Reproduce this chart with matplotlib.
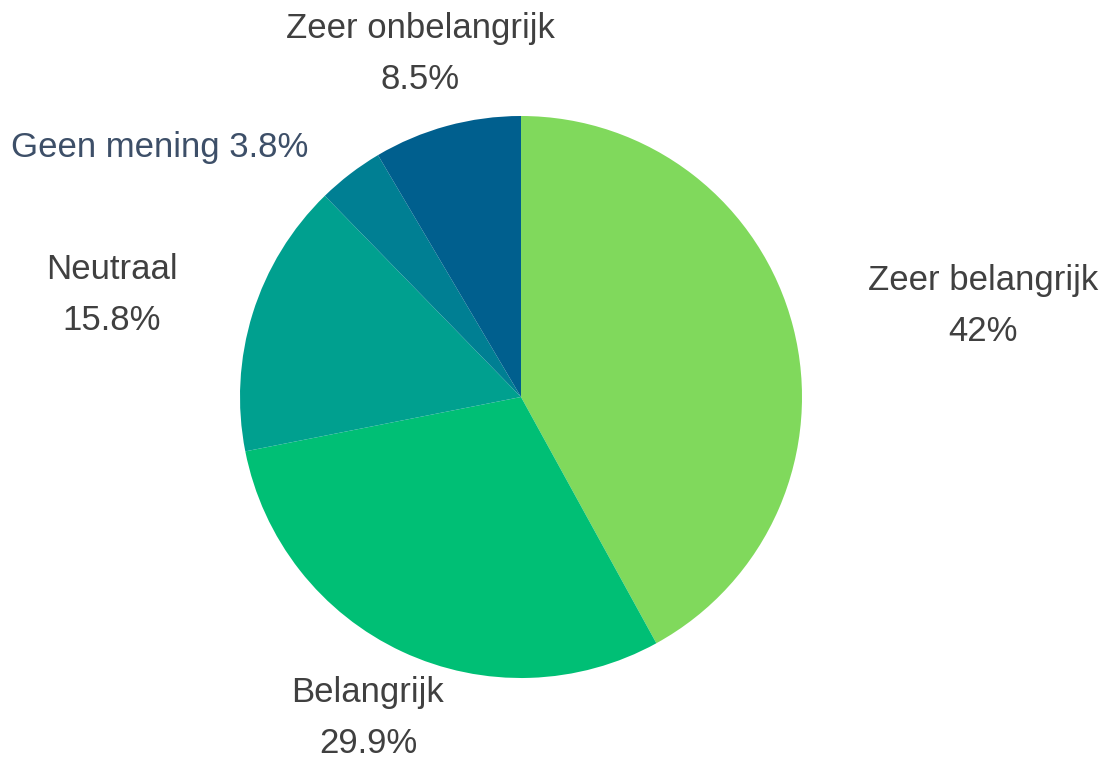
import matplotlib.pyplot as plt

# data
labels = ["Zeer belangrijk", "Belangrijk", "Neutraal", "Geen mening", "Zeer onbelangrijk"]
values = [42, 29.9, 15.8, 3.8, 8.5]
colors = ["#80d95c", "#00bf75", "#00a08f", "#007f93", "#005f8e"]

# label placement in figure pixels (x, y from top), two-line or single-line
label_pos = [(983, 306), (368, 718), (112, 295), (160, 147), (420, 54)]
single_line = [False, False, False, True, False]
label_colors = ["#404040", "#404040", "#404040", "#3d4f68", "#404040"]

W, H = 1110, 762
fig = plt.figure(figsize=(W / 100, H / 100), dpi=100)
ax = fig.add_axes([0, 0, 1, 1])

ax.pie(values, colors=colors, startangle=90, counterclock=False,
       center=(521, H - 397), radius=281, frame=True,
       wedgeprops=dict(linewidth=0))
ax.set_xlim(0, W)
ax.set_ylim(0, H)
ax.set_aspect("equal", adjustable="box")
ax.axis("off")

for lab, v, (x, y), one, c in zip(labels, values, label_pos, single_line, label_colors):
    pct = f"{v:g}%"
    txt = f"{lab} {pct}" if one else f"{lab}\n{pct}"
    ax.text(x, H - y, txt, ha="center", va="center", fontsize=25,
            family="Liberation Sans", color=c, linespacing=1.7)

fig.savefig("out.png", dpi=100, facecolor="white")
